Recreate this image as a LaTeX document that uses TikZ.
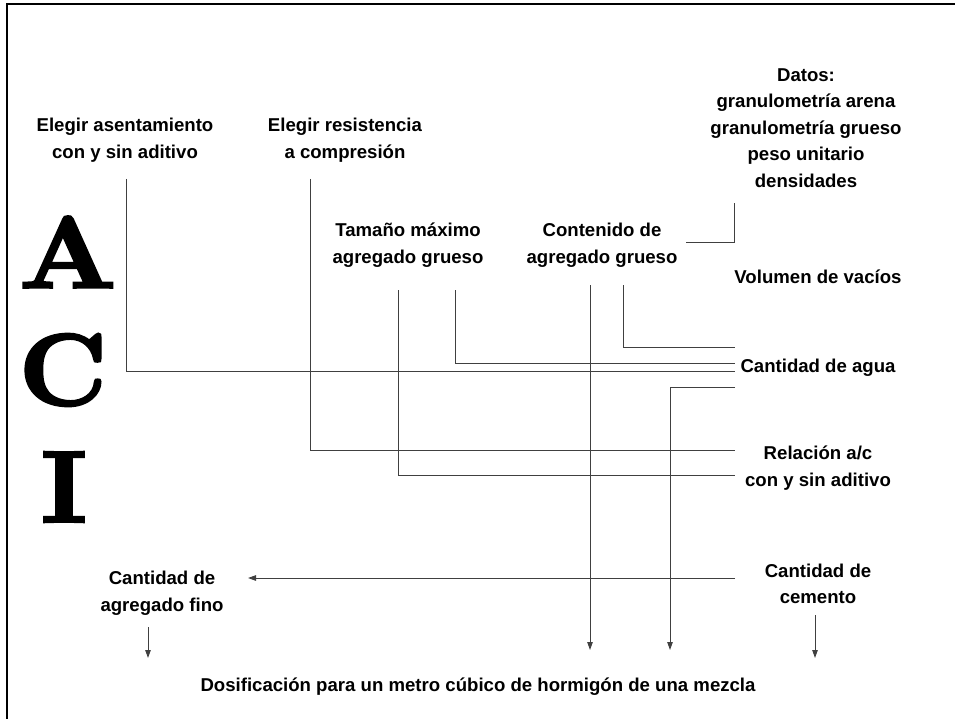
\documentclass[tikz,border=0pt]{standalone}
\usepackage{fontspec}
\setmainfont{Liberation Sans}
\newfontfamily\acifont{lmroman10-bold.otf}[FakeBold=2.5]
\usetikzlibrary{arrows.meta}

\begin{document}
\begin{tikzpicture}[x=1pt,y=-1pt,
  every node/.style={font=\bfseries\fontsize{18.6}{26.5}\selectfont,align=center,inner sep=0pt},
  letra/.style={font=\acifont\fontsize{102}{102}\selectfont},
  linea/.style={draw=black!75,line width=1pt},
  flecha/.style={linea,-{Triangle[length=8pt,width=5.5pt]}}]
\useasboundingbox (0,0) rectangle (955,719);
% marco
\draw[line width=2.5pt] (7,719) -- (7,4) -- (955,4);
% A C I
\node[letra] (la) at (68,252) {\scalebox{1.1}[1]{A}};
\node[letra] (lc) at (63,370) {\scalebox{1.04}[1]{C}};
\node[letra] (li) at (64,487) {\scalebox{1.03}[1]{I}};
% textos
\node (asent) at (125,140) {Elegir asentamiento\\con y sin aditivo};
\node (resist) at (345,140) {Elegir resistencia\\a compresión};
\node (tamano) at (408,245) {Tamaño máximo\\agregado grueso};
\node (contenido) at (602,245) {Contenido de\\agregado grueso};
\node (datos) at (806,128) {Datos:\\granulometría arena\\granulometría grueso\\peso unitario\\densidades};
\node (vacios) at (818,277) {Volumen de vacíos};
\node (agua) at (818,368) {Cantidad de agua};
\node (relacion) at (818,468) {Relación a/c\\con y sin aditivo};
\node (cemento) at (818,584) {Cantidad de\\cemento};
\node (fino) at (162,593) {Cantidad de\\agregado fino};
\node (dosif) at (478,687) {Dosificación para un metro cúbico de hormigón de una mezcla};
% puntos de las lineas
\coordinate (asent-s) at (126,179);
\coordinate (resist-s) at (310,179);
\coordinate (tamano-s1) at (398,290);
\coordinate (tamano-s2) at (455,290);
\coordinate (cont-s1) at (590,285);
\coordinate (cont-s2) at (623,285);
\coordinate (datos-s) at (734,203);
\coordinate (datos-w) at (686,243);
\coordinate (vacios-w) at (735,347);
\coordinate (agua-w1) at (735,363);
\coordinate (agua-w2) at (735,371);
\coordinate (agua-w3) at (735,387);
\coordinate (rel-w1) at (735,450);
\coordinate (rel-w2) at (735,475);
\coordinate (cem-w) at (735,578);
\coordinate (cem-s) at (815,615);
\coordinate (fino-e) at (248,578);
\coordinate (fino-s) at (148,627);
\coordinate (dosif-n1) at (148,658);
\coordinate (dosif-n2) at (590,650);
\coordinate (dosif-n3) at (670,650);
\coordinate (dosif-n4) at (815,658);
% conexiones
\draw[linea] (asent-s) |- (agua-w2);
\draw[linea] (resist-s) |- (rel-w1);
\draw[linea] (tamano-s1) |- (rel-w2);
\draw[linea] (tamano-s2) |- (agua-w1);
\draw[linea] (cont-s2) |- (vacios-w);
\draw[linea] (datos-w) -| (datos-s);
\draw[flecha] (cont-s1) -- (dosif-n2);
\draw[flecha] (agua-w3) -| (dosif-n3);
\draw[flecha] (cem-w) -- (fino-e);
\draw[flecha] (fino-s) -- (dosif-n1);
\draw[flecha] (cem-s) -- (dosif-n4);
\end{tikzpicture}
\end{document}
